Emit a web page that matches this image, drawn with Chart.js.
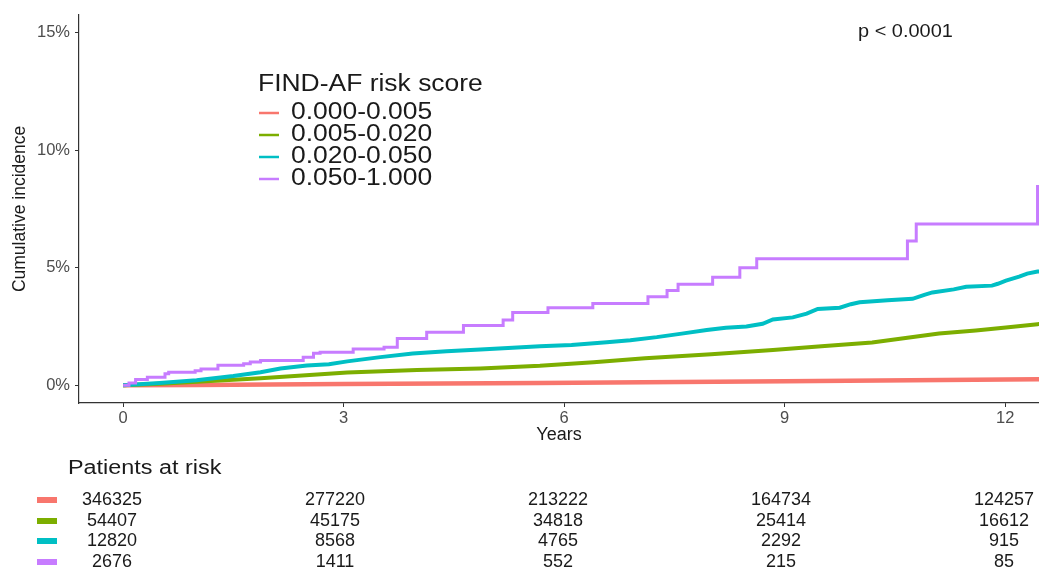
<!DOCTYPE html>
<html>
<head>
<meta charset="utf-8">
<script src="https://cdn.jsdelivr.net/npm/chart.js@4/dist/chart.umd.min.js"></script>
<style>
  html, body { margin: 0; padding: 0; background: #ffffff; }
  #wrap { width: 1039px; height: 570px; position: relative; }
</style>
</head>
<body>
<div id="wrap"><canvas id="c" width="1039" height="570"></canvas></div>
<script>
// ---------- data ----------
const groupLabels = ['0.000-0.005', '0.005-0.020', '0.020-0.050', '0.050-1.000'];
const groupColors = ['#F8766D', '#7CAE00', '#00BFC4', '#C77CFF'];

const redYears = [0, 1.0, 3.0, 5.67, 9.0, 12.44, 12.6];
const redInc   = [0, 0.02, 0.06, 0.10, 0.17, 0.26, 0.27];

const greenYears = [0, 0.5, 1.01, 1.87, 3.05, 4.0, 4.86, 5.67, 6.4, 7.1, 8.0, 8.84, 9.5, 10.19, 11.1, 11.6, 12.01, 12.44, 12.6];
const greenInc   = [0, 0.07, 0.15, 0.30, 0.55, 0.65, 0.72, 0.83, 0.98, 1.15, 1.32, 1.50, 1.66, 1.82, 2.20, 2.33, 2.46, 2.60, 2.65];

const tealYears = [0, 0.5, 1.0, 1.5, 1.87, 2.14, 2.5, 2.8, 3.05, 3.5, 3.94, 4.4, 4.86, 5.3, 5.67, 6.1, 6.58, 6.9, 7.26, 7.6, 7.94, 8.2, 8.48, 8.7, 8.84, 9.11, 9.3, 9.45, 9.75, 9.9, 10.02, 10.4, 10.74, 10.9, 11.01, 11.3, 11.47, 11.82, 11.9, 12.01, 12.19, 12.3, 12.44, 12.6];
const tealInc   = [0, 0.10, 0.22, 0.40, 0.56, 0.72, 0.84, 0.90, 1.02, 1.20, 1.35, 1.45, 1.52, 1.60, 1.66, 1.72, 1.83, 1.92, 2.05, 2.20, 2.35, 2.45, 2.50, 2.62, 2.80, 2.89, 3.05, 3.25, 3.30, 3.45, 3.53, 3.62, 3.68, 3.85, 3.95, 4.08, 4.19, 4.24, 4.32, 4.45, 4.62, 4.75, 4.84, 4.86];

const purpleYears = [0, 0.08, 0.17, 0.33, 0.57, 0.62, 0.98, 1.06, 1.29, 1.64, 1.73, 1.87, 2.45, 2.59, 2.68, 3.13, 3.55, 3.73, 4.13, 4.63, 5.17, 5.30, 5.78, 6.39, 7.14, 7.40, 7.55, 8.02, 8.39, 8.62, 10.67, 10.79, 12.44, 12.6];
const purpleInc   = [0, 0.10, 0.25, 0.34, 0.49, 0.56, 0.62, 0.70, 0.85, 0.92, 0.99, 1.06, 1.20, 1.37, 1.41, 1.55, 1.62, 1.99, 2.26, 2.54, 2.78, 3.10, 3.30, 3.48, 3.77, 4.03, 4.30, 4.60, 5.00, 5.38, 6.14, 6.86, 8.45, 8.45];

const xTickValues = [0, 3, 6, 9, 12];
const yTickValues = [0, 5, 10, 15];

const riskTimes  = [0, 3, 6, 9, 12];
const riskRed    = [346325, 277220, 213222, 164734, 124257];
const riskGreen  = [54407, 45175, 34818, 25414, 16612];
const riskTeal   = [12820, 8568, 4765, 2292, 915];
const riskPurple = [2676, 1411, 552, 215, 85];

// ---------- helpers ----------
const FONT = '"Liberation Sans", Arial, Helvetica, sans-serif';
function pts(xs, ys) { return xs.map((x, i) => ({ x: x, y: ys[i] })); }
function drawText(ctx, s, x, y, size, color, align, sx) {
  ctx.save();
  ctx.font = size + 'px ' + FONT;
  ctx.fillStyle = color;
  ctx.textBaseline = 'middle';
  ctx.textAlign = align;
  ctx.translate(x, y);
  ctx.scale(sx, 1);
  ctx.fillText(s, 0, 0);
  ctx.restore();
}

const overlayPlugin = {
  id: 'overlay',
  afterDraw(chart) {
    const ctx = chart.ctx;
    // p-value
    drawText(ctx, 'p < 0.0001', 858, 32, 19, '#1a1a1a', 'left', 1.05);
    // legend
    drawText(ctx, 'FIND-AF risk score', 258, 85, 23, '#1a1a1a', 'left', 1.15);
    const legY = [113, 135, 157, 179];
    groupLabels.forEach((lab, i) => {
      ctx.save();
      ctx.strokeStyle = groupColors[i];
      ctx.lineWidth = 2.5;
      ctx.beginPath();
      ctx.moveTo(259, legY[i]);
      ctx.lineTo(279, legY[i]);
      ctx.stroke();
      ctx.restore();
      drawText(ctx, lab, 291, legY[i], 23, '#1a1a1a', 'left', 1.15);
    });
    // risk table
    drawText(ctx, 'Patients at risk', 68, 468, 20, '#1a1a1a', 'left', 1.17);
    const rows = [riskRed, riskGreen, riskTeal, riskPurple];
    const rowY = [500, 521, 541, 562];
    const xs = chart.scales.xRisk;
    rows.forEach((row, r) => {
      ctx.save();
      ctx.fillStyle = groupColors[r];
      ctx.fillRect(37, rowY[r] - 3, 20, 6);
      ctx.restore();
      row.forEach((n, j) => {
        drawText(ctx, String(n), xs.getPixelForValue(riskTimes[j]), rowY[r], 18, '#1a1a1a', 'center', 1.0);
      });
    });
  }
};

const ctx = document.getElementById('c').getContext('2d');
new Chart(ctx, {
  type: 'line',
  data: {
    datasets: [
      { label: groupLabels[3], data: pts(purpleYears, purpleInc), borderColor: groupColors[3], borderWidth: 3, stepped: true, pointRadius: 0, order: 1 },
      { label: groupLabels[2], data: pts(tealYears, tealInc), borderColor: groupColors[2], borderWidth: 4, pointRadius: 0, order: 2 },
      { label: groupLabels[1], data: pts(greenYears, greenInc), borderColor: groupColors[1], borderWidth: 4, pointRadius: 0, order: 3 },
      { label: groupLabels[0], data: pts(redYears, redInc), borderColor: groupColors[0], borderWidth: 4.5, pointRadius: 0, order: 4 }
    ]
  },
  options: {
    responsive: false,
    animation: false,
    devicePixelRatio: 1,
    layout: { padding: { left: 0, right: 0, top: 13, bottom: 125 } },
    plugins: { legend: { display: false }, tooltip: { enabled: false } },
    scales: {
      x: {
        type: 'linear',
        min: -0.6,
        max: 12.46,
        afterBuildTicks: s => { s.ticks = xTickValues.map(v => ({ value: v })); },
        afterFit: s => { s.height = 42; },
        grid: { drawOnChartArea: false, drawTicks: true, tickLength: 4, color: '#333333', lineWidth: 1 },
        border: { display: true, color: '#333333', width: 1.2 },
        ticks: { color: '#4d4d4d', font: { family: FONT, size: 16.5 }, padding: 2, maxRotation: 0 },
        title: { display: true, text: 'Years', color: '#1a1a1a', font: { family: FONT, size: 18 }, padding: { top: 0, bottom: -1 } }
      },
      xRisk: {
        type: 'linear',
        display: false,
        position: 'bottom',
        min: -0.444,
        max: 12.47
      },
      y: {
        type: 'linear',
        min: -0.75,
        max: 15.75,
        afterBuildTicks: s => { s.ticks = yTickValues.map(v => ({ value: v })); },
        afterFit: s => { s.width = 79; },
        grid: { drawOnChartArea: false, drawTicks: true, tickLength: 4, color: '#333333', lineWidth: 1 },
        border: { display: true, color: '#333333', width: 1.2 },
        ticks: { color: '#4d4d4d', font: { family: FONT, size: 16.5 }, padding: 5, callback: v => v + '%' },
        title: { display: true, text: 'Cumulative incidence', color: '#1a1a1a', font: { family: FONT, size: 17.5 }, padding: { top: 10, bottom: 0 } }
      }
    }
  },
  plugins: [overlayPlugin]
});
</script>
</body>
</html>
